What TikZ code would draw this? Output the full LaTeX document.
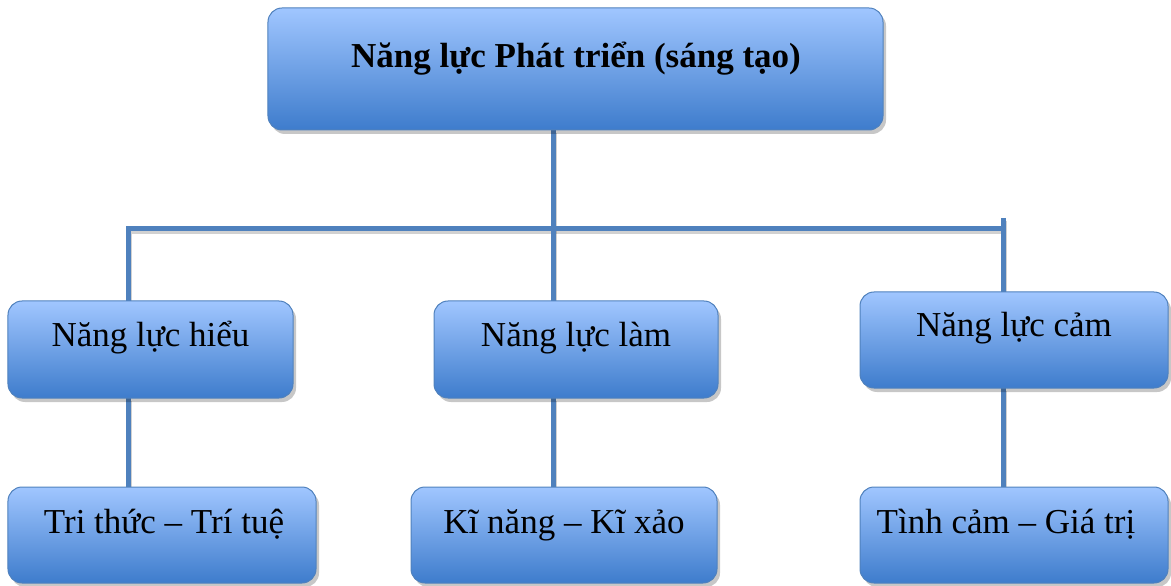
\documentclass[tikz,border=0pt]{standalone}
\usepackage{fontspec}
\setmainfont{Liberation Serif}
\usetikzlibrary{shadows}
\definecolor{boxtop}{RGB}{160,198,255}
\definecolor{boxmid}{RGB}{112,162,232}
\definecolor{boxbot}{RGB}{62,124,204}
\definecolor{boxedge}{RGB}{79,129,189}
\definecolor{linkblue}{RGB}{79,129,189}
\tikzset{
  card/.style={rectangle, rounded corners=14bp, inner sep=0pt,
    draw=boxedge, line width=1bp,
    top color=boxtop, middle color=boxmid, bottom color=boxbot,
    drop shadow={shadow xshift=3bp, shadow yshift=-4bp, fill=black, opacity=0.22}},
  lbl/.style={anchor=base, inner sep=0pt, font=\fontsize{35bp}{40bp}\selectfont},
  link/.style={draw=linkblue, line width=5bp},
  linkshadow/.style={draw=black, opacity=0.18, line width=5bp, transform canvas={xshift=1.5bp, yshift=-3bp}}
}
\begin{document}
\begin{tikzpicture}[x=1bp, y=1bp]
\useasboundingbox (0,0) rectangle (1171,-586);

% box centres
\path
  coordinate (ctop) at (575.5,-69)
  coordinate (cml) at (150.5,-349.5)
  coordinate (cmm) at (576,-349.5)
  coordinate (cmr) at (1014,-340)
  coordinate (cbl) at (162,-535)
  coordinate (cbm) at (564,-535)
  coordinate (cbr) at (1014,-535);

% junction points of the tree
\coordinate (hl) at (128,-229);
\coordinate (hm) at (553,-229);
\coordinate (hr) at (1003,-229);
\coordinate (hrt) at (1003,-218);

% invisible placeholders so connectors can refer to box edges
\path
  node[minimum width=615bp, minimum height=122bp, inner sep=0pt] (top) at (ctop) {}
  node[minimum width=285bp, minimum height=97bp, inner sep=0pt] (ml) at (cml) {}
  node[minimum width=284bp, minimum height=97bp, inner sep=0pt] (mm) at (cmm) {}
  node[minimum width=308bp, minimum height=96bp, inner sep=0pt] (mr) at (cmr) {}
  node[minimum width=308bp, minimum height=96bp, inner sep=0pt] (bl) at (cbl) {}
  node[minimum width=306bp, minimum height=96bp, inner sep=0pt] (bm) at (cbm) {}
  node[minimum width=308bp, minimum height=96bp, inner sep=0pt] (br) at (cbr) {};

% connectors: soft shadow first, then the blue lines
\foreach \s in {linkshadow, link} {
  \draw[\s] (hm |- top.south) -- (hm |- mm.north);
  \draw[\s] (hl |- ml.north) -- (hl) -- (hr);
  \draw[\s] (hrt) -- (hrt |- mr.north);
  \draw[\s] (hl |- ml.south) -- (hl |- bl.north);
  \draw[\s] (hm |- mm.south) -- (hm |- bm.north);
  \draw[\s] (hr |- mr.south) -- (hr |- br.north);
}

% shaded boxes
\node[card, minimum width=615bp, minimum height=122bp] (topbox) at (ctop) {};
\node[card, minimum width=285bp, minimum height=97bp] (mlbox) at (cml) {};
\node[card, minimum width=284bp, minimum height=97bp] (mmbox) at (cmm) {};
\node[card, minimum width=308bp, minimum height=96bp] (mrbox) at (cmr) {};
\node[card, minimum width=308bp, minimum height=96bp] (blbox) at (cbl) {};
\node[card, minimum width=306bp, minimum height=96bp] (bmbox) at (cbm) {};
\node[card, minimum width=308bp, minimum height=96bp] (brbox) at (cbr) {};

% labels
\node[lbl, font=\fontsize{35bp}{40bp}\selectfont\bfseries] (ttop) at (576,-68) {Năng lực Phát triển (sáng tạo)};
\node[lbl] (tml) at (150.5,-347) {Năng lực hiểu};
\node[lbl] (tmm) at (576,-347) {Năng lực làm};
\node[lbl] (tmr) at (1014,-337) {Năng lực cảm};
\node[lbl] (tbl) at (164,-533) {Tri thức – Trí tuệ};
\node[lbl] (tbm) at (564,-533) {Kĩ năng – Kĩ xảo};
\node[lbl] (tbr) at (1006,-533) {Tình cảm – Giá trị};
\end{tikzpicture}
\end{document}
